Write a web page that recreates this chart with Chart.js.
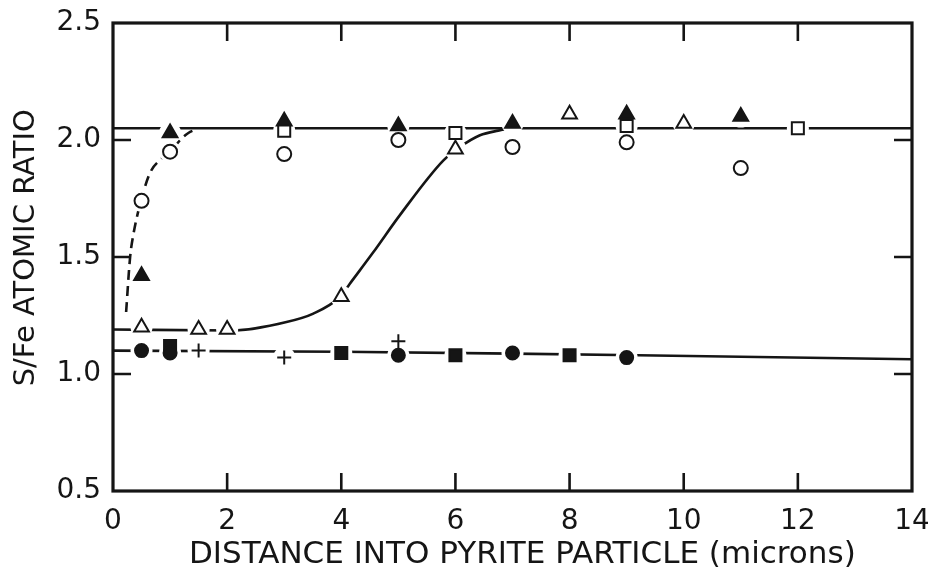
<!DOCTYPE html>
<html>
<head>
<meta charset="utf-8">
<script src="https://cdn.jsdelivr.net/npm/chart.js@4"></script>
<style>
html,body{margin:0;padding:0;background:#fff;}
#wrap{width:928px;height:569px;}
</style>
</head>
<body>
<div id="wrap"><canvas id="c" width="928" height="569"></canvas></div>
<script>
// ---- Data ----
const xTicks = [0, 2, 4, 6, 8, 10, 12, 14];
const yTicks = [0.5, 1.0, 1.5, 2.0, 2.5];

// Open circles
const openCircleX = [0.5, 1, 3, 5, 7, 9, 11];
const openCircleY = [1.74, 1.95, 1.94, 2.00, 1.97, 1.99, 1.88];
// Filled triangles
const filledTriX = [0.5, 1, 3, 5, 7, 9, 11];
const filledTriY = [1.42, 2.03, 2.08, 2.06, 2.07, 2.11, 2.10];
// Open triangles
const openTriX = [0.5, 1.5, 2, 4, 6, 8, 10];
const openTriY = [1.20, 1.19, 1.19, 1.33, 1.96, 2.11, 2.07];
// Open squares
const openSqX = [3, 6, 9, 12];
const openSqY = [2.04, 2.03, 2.06, 2.05];
// Filled circles
const filledCircleX = [0.5, 1, 5, 7, 9];
const filledCircleY = [1.10, 1.09, 1.08, 1.09, 1.07];
// Filled squares
const filledSqX = [1, 4, 6, 8];
const filledSqY = [1.12, 1.09, 1.08, 1.08];
// Plus signs
const plusX = [1.5, 3, 5];
const plusY = [1.10, 1.07, 1.14];

// Hand-drawn curves
const topLineX = [0, 14];
const topLineY = [2.05, 2.05];
const lowLineX = [0, 4, 7, 9.2, 14];
const lowLineY = [1.10, 1.095, 1.087, 1.08, 1.063];
const dashCurveX = [0.23, 0.30, 0.36, 0.49, 0.65, 0.85, 1.0, 1.2, 1.32, 1.45];
const dashCurveY = [1.265, 1.50, 1.60, 1.74, 1.86, 1.92, 1.95, 2.006, 2.03, 2.045];
const sigmoidX = [0, 2.1, 3.04, 3.51, 3.98, 4.15, 4.56, 5.03, 5.79, 6.08, 6.43, 6.75, 7.0];
const sigmoidY = [1.19, 1.186, 1.222, 1.258, 1.33, 1.386, 1.52, 1.68, 1.913, 1.97, 2.02, 2.04, 2.05];

const xTitle = '  DISTANCE INTO PYRITE PARTICLE (microns)';
const yTitle = '  S/Fe ATOMIC RATIO';

const INK = '#151515';
const FONT = "'DejaVu Sans', sans-serif";

function pts(xs, ys) { return xs.map((x, i) => ({x: x, y: ys[i]})); }

function markerSet(xs, ys, style, radius, filled) {
  return {
    type: 'scatter', data: pts(xs, ys), showLine: false, order: 1,
    pointStyle: style, pointRadius: radius, pointHoverRadius: radius,
    pointBackgroundColor: filled ? INK : '#ffffff', pointBorderColor: INK,
    pointBorderWidth: 2
  };
}
function haloSet(xs, ys, radius) {
  return {
    type: 'scatter', data: pts(xs, ys), showLine: false, order: 2,
    pointStyle: 'circle', pointRadius: radius, pointHoverRadius: radius,
    pointBackgroundColor: '#ffffff', pointBorderColor: '#ffffff', pointBorderWidth: 0
  };
}
function curveSet(xs, ys, dash, smooth) {
  return {
    type: 'line', data: pts(xs, ys), order: 3,
    borderColor: INK, borderWidth: 2.6, borderDash: dash || [],
    pointRadius: 0, fill: false,
    cubicInterpolationMode: smooth ? 'monotone' : 'default', tension: 0
  };
}

const frameTicks = {
  id: 'frameTicks',
  afterDatasetsDraw(chart) {
    const {ctx, chartArea: a, scales: {x, y}} = chart;
    ctx.save();
    ctx.strokeStyle = INK;
    ctx.lineWidth = 2.6;
    const L = 18;
    ctx.beginPath();
    xTicks.forEach(v => {
      if (v <= x.min || v >= x.max) return;
      const px = x.getPixelForValue(v);
      ctx.moveTo(px, a.bottom); ctx.lineTo(px, a.bottom - L);
      ctx.moveTo(px, a.top); ctx.lineTo(px, a.top + L);
    });
    yTicks.forEach(v => {
      if (v <= y.min || v >= y.max) return;
      const py = y.getPixelForValue(v);
      ctx.moveTo(a.left, py); ctx.lineTo(a.left + L, py);
      ctx.moveTo(a.right, py); ctx.lineTo(a.right - L, py);
    });
    ctx.stroke();
    ctx.lineWidth = 3.2;
    ctx.strokeRect(a.left, a.top, a.right - a.left, a.bottom - a.top);
    ctx.restore();
  }
};

const allMarkX = [].concat(openCircleX, filledTriX, openTriX, openSqX, filledCircleX, filledSqX, plusX);
const allMarkY = [].concat(openCircleY, filledTriY, openTriY, openSqY, filledCircleY, filledSqY, plusY);

new Chart(document.getElementById('c'), {
  data: {
    datasets: [
      curveSet(topLineX, topLineY, null, false),
      curveSet(lowLineX, lowLineY, null, false),
      curveSet(dashCurveX, dashCurveY, [10, 6], true),
      curveSet(sigmoidX, sigmoidY, null, true),
      haloSet(allMarkX, allMarkY, 11),
      markerSet(openCircleX, openCircleY, 'circle', 7, false),
      markerSet(filledTriX, filledTriY, 'triangle', 8.5, true),
      markerSet(openTriX, openTriY, 'triangle', 8.5, false),
      markerSet(openSqX, openSqY, 'rect', 8.5, false),
      markerSet(filledCircleX, filledCircleY, 'circle', 6.5, true),
      markerSet(filledSqX, filledSqY, 'rect', 8.5, true),
      markerSet(plusX, plusY, 'cross', 7, false)
    ]
  },
  options: {
    responsive: false,
    animation: false,
    events: [],
    layout: {padding: {left: 0, right: 16, top: 23, bottom: 0}},
    plugins: {legend: {display: false}, tooltip: {enabled: false}},
    scales: {
      x: {
        type: 'linear', min: 0, max: 14,
        afterBuildTicks(s) { s.ticks = xTicks.map(v => ({value: v})); },
        afterFit(s) { s.height = 78; s.paddingLeft = 0; s.paddingRight = 0; },
        grid: {display: false, drawTicks: false},
        border: {display: false},
        ticks: {color: INK, font: {family: FONT, size: 28}, padding: 14,
                callback: v => String(v), maxRotation: 0, autoSkip: false},
        title: {display: true, text: xTitle, color: INK,
                font: {family: FONT, size: 31, lineHeight: 0.9}, padding: {top: 0, bottom: 0}}
      },
      y: {
        type: 'linear', min: 0.5, max: 2.5,
        afterBuildTicks(s) { s.ticks = yTicks.map(v => ({value: v})); },
        afterFit(s) { s.width = 113; s.paddingTop = 0; s.paddingBottom = 0; },
        grid: {display: false, drawTicks: false},
        border: {display: false},
        ticks: {color: INK, font: {family: FONT, size: 28}, padding: 12,
                callback: v => Number(v).toFixed(1), autoSkip: false},
        title: {display: true, text: yTitle, color: INK,
                font: {family: FONT, size: 29}, padding: {top: 9, bottom: 0}}
      }
    }
  },
  plugins: [frameTicks]
});
</script>
</body>
</html>
